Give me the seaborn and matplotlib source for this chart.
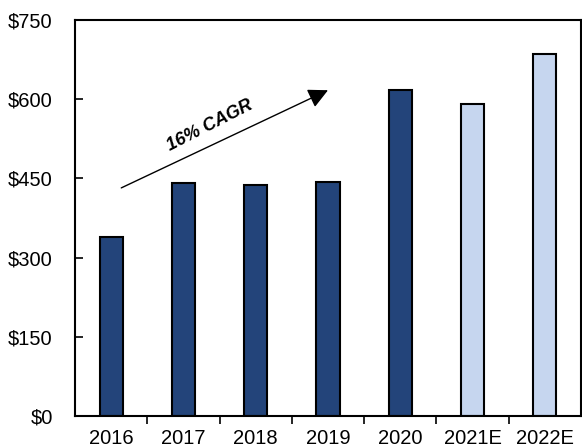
import matplotlib
matplotlib.use("Agg")
import matplotlib.pyplot as plt
import seaborn as sns
import pandas as pd

years = ["2016", "2017", "2018", "2019", "2020", "2021E", "2022E"]
values = [339, 441, 437, 443, 617, 591, 686]
kinds = ["Actual", "Actual", "Actual", "Actual", "Actual", "Estimate", "Estimate"]
y_ticks = [0, 150, 300, 450, 600, 750]
y_labels = ["$0", "$150", "$300", "$450", "$600", "$750"]

sns.set_theme(style="white")
plt.rcParams["font.family"] = ["Liberation Sans", "DejaVu Sans"]
plt.rcParams["text.color"] = "black"
plt.rcParams["xtick.color"] = "black"
plt.rcParams["ytick.color"] = "black"
plt.rcParams["xtick.labelcolor"] = "black"
plt.rcParams["ytick.labelcolor"] = "black"

df = pd.DataFrame({"year": years, "value": values, "kind": kinds})

fig = plt.figure(figsize=(5.82, 4.48), dpi=100)
ax = fig.add_axes([75 / 582, 32 / 448, 506 / 582, 396 / 448])

sns.barplot(data=df, x="year", y="value", hue="kind",
            palette={"Actual": "#23447a", "Estimate": "#c6d6ef"},
            saturation=1, dodge=False, width=0.32, edgecolor="black",
            linewidth=1.5, legend=False, ax=ax)

ax.set_ylim(0, 750)
ax.set_xlim(-0.5, len(years) - 0.5)
ax.set_yticks(y_ticks)
ax.set_yticklabels(y_labels, fontsize=14.5)
ax.set_xlabel("")
ax.set_ylabel("")
ax.set_xticks(range(len(years)))
ax.set_xticklabels(years, fontsize=14.5)
ax.tick_params(axis="x", which="major", length=0, pad=9)
ax.tick_params(axis="y", direction="in", length=6, width=1.2, left=True, pad=16)
ax.set_xticks([i + 0.5 for i in range(len(years) - 1)], minor=True)
ax.tick_params(axis="x", which="minor", direction="out", length=6, width=1.2, bottom=True)
for s in ax.spines.values():
    s.set_visible(True)
    s.set_color("black")
    s.set_linewidth(1.5)

ax.annotate("", xy=(3.0, 617), xytext=(0.14, 432),
            arrowprops=dict(arrowstyle="-|>,head_length=1.0,head_width=0.5",
                            color="black", lw=1.0, shrinkA=0, shrinkB=0))
ax.text(1.37, 550, "16% CAGR", rotation=27, fontsize=13, fontweight="bold",
        fontstyle="italic", ha="center", va="center", color="black")

fig.savefig("out.png", dpi=100)
